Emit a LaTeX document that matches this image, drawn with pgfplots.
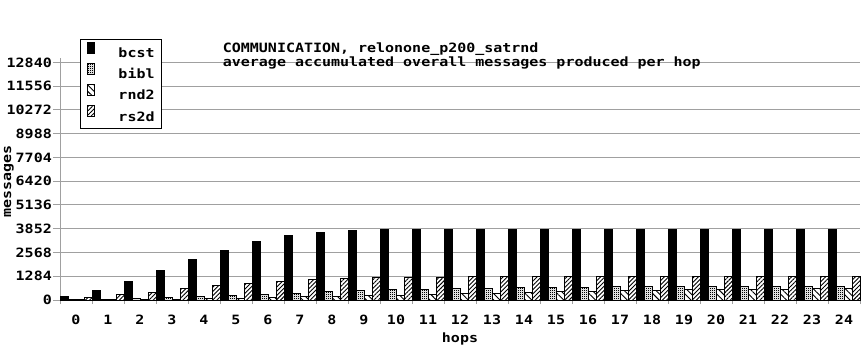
\documentclass[border=0pt]{standalone}
\usepackage{pgfplots}
\pgfplotsset{compat=1.18}
\usetikzlibrary{patterns,patterns.meta}
\usepackage{fontspec}
\newfontfamily\gp[FakeStretch=1.17]{DejaVu Sans Mono Bold}
\newcommand\gpfont{\gp\fontsize{12.8}{14}\selectfont}
\definecolor{gridgray}{RGB}{160,160,160}
\pgfdeclarepattern{
  name=checker,
  type=uncolored,
  bottom left={\pgfpoint{0pt}{0pt}},
  top right={\pgfpoint{2pt}{2pt}},
  tile size={\pgfpoint{2pt}{2pt}},
  code={
    \pgfpathrectangle{\pgfpoint{0pt}{0pt}}{\pgfpoint{1.25pt}{1.25pt}}
    \pgfpathrectangle{\pgfpoint{1pt}{1pt}}{\pgfpoint{1pt}{1pt}}
    \pgfusepath{fill}
  }
}
\begin{document}
\begin{tikzpicture}
\useasboundingbox (0,0) rectangle (862pt,360pt);
\begin{axis}[
  at={(60pt,60pt)}, anchor=south west,
  scale only axis, width=800pt, height=241.7pt,
  xmin=-0.5, xmax=24.5, ymin=0, ymax=13060,
  clip=false,
  scaled y ticks=false,
  ybar=0pt, bar width=8pt,
  axis x line=bottom, axis y line=left,
  axis line style={-, draw=gridgray, line width=1pt},
  ymajorgrids, grid style={draw=gridgray, line width=1pt},
  tick align=outside,
  major tick length=7pt,
  xtick={0,1,...,24},
  xticklabels={0,1,2,3,4,5,6,7,8,9,10,11,12,13,14,15,16,17,18,19,20,21,22,23,24},
  xtick style={draw=none},
  extra x ticks={-0.5,0.5,...,24.5},
  extra x tick labels={},
  extra x tick style={major tick length=4pt, grid=none, xtick style={draw=gridgray, line width=1pt}},
  ytick={0,1284,2568,3852,5136,6420,7704,8988,10272,11556,12840},
  yticklabels={0,1284,2568,3852,5136,6420,7704,8988,10272,11556,12840},
  ytick style={draw=gridgray, line width=1pt},
  xticklabel style={font=\gpfont, anchor=center, inner sep=0pt, yshift=-13pt},
  yticklabel style={font=\gpfont, anchor=east, inner sep=0pt, xshift=-1pt},
  xlabel={hops}, ylabel={messages},
  xlabel style={font=\gpfont, at={(axis description cs:0.5,-0.177)}, anchor=base, inner sep=0pt},
  ylabel style={font=\gpfont, at={(axis description cs:-0.0638,0.492)}, anchor=center, inner sep=0pt},
  legend image code/.code={\draw[#1, line width=1pt] (3pt,0pt) rectangle (10pt,11pt);},
  legend cell align=left,
  legend style={at={(axis description cs:0.025,1.0786)}, anchor=north west,
    draw=black, line width=1pt, fill=white, font=\gpfont,
    inner xsep=7pt, inner ysep=2pt, row sep=0pt, column sep=23pt,
    nodes={inner sep=0pt, text height=14pt, text depth=5.3pt}},
]
\addplot[draw=black, fill=black, line width=1pt] coordinates {
(0,200) (1,520) (2,1010) (3,1600) (4,2190) (5,2670) (6,3150) (7,3480) (8,3640) (9,3770)
(10,3820) (11,3820) (12,3820) (13,3820) (14,3820) (15,3820) (16,3820) (17,3820) (18,3820)
(19,3820) (20,3820) (21,3820) (22,3820) (23,3820) (24,3820)};
\addlegendentry{bcst}
\addplot[draw=black, pattern=checker, pattern color=black, line width=1pt] coordinates {
(0,40) (1,40) (2,90) (3,150) (4,190) (5,260) (6,310) (7,365) (8,480) (9,540)
(10,590) (11,590) (12,640) (13,640) (14,700) (15,700) (16,700) (17,750) (18,750)
(19,750) (20,750) (21,750) (22,750) (23,750) (24,750)};
\addlegendentry{bibl}
\addplot[draw=black, pattern={Lines[angle=-45, distance=4.5pt, line width=0.9pt]}, pattern color=black, line width=1pt] coordinates {
(0,20) (1,20) (2,30) (3,40) (4,70) (5,90) (6,130) (7,170) (8,200) (9,250)
(10,250) (11,300) (12,350) (13,350) (14,410) (15,460) (16,460) (17,520) (18,520)
(19,570) (20,570) (21,570) (22,570) (23,620) (24,620)};
\addlegendentry{rnd2}
\addplot[draw=black, pattern={Lines[angle=45, distance=3pt, line width=0.9pt]}, pattern color=black, line width=1pt] coordinates {
(0,130) (1,310) (2,420) (3,630) (4,790) (5,900) (6,1000) (7,1110) (8,1160) (9,1220)
(10,1220) (11,1220) (12,1270) (13,1270) (14,1270) (15,1270) (16,1270) (17,1270) (18,1270)
(19,1270) (20,1270) (21,1270) (22,1270) (23,1270) (24,1270)};
\addlegendentry{rs2d}
\node[anchor=base west, inner sep=0pt, font=\gpfont] at (axis description cs:0.2034,1.0232) {COMMUNICATION, relonone\_p200\_satrnd};
\node[anchor=base west, inner sep=0pt, font=\gpfont] at (axis description cs:0.2034,0.968) {average accumulated overall messages produced per hop};
\end{axis}
\end{tikzpicture}
\end{document}
